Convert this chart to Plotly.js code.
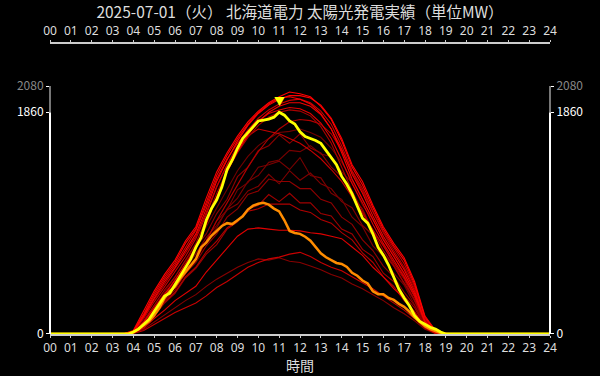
<!DOCTYPE html>
<html>
<head>
<meta charset="utf-8">
<script src="https://cdn.plot.ly/plotly-3.0.1.min.js"></script>
<style>html,body{margin:0;padding:0;background:#000;}#chart{width:600px;height:376px;}</style>
</head>
<body>
<div id="chart"></div>
<script>
// ---- data ----
const chartTitle = '2025-07-01（火） 北海道電力 太陽光発電実績（単位MW）';
const xTitle = '時間';
const hourTicks = [0,1,2,3,4,5,6,7,8,9,10,11,12,13,14,15,16,17,18,19,20,21,22,23,24];
const hourLabels = ['00','01','02','03','04','05','06','07','08','09','10','11','12','13','14','15','16','17','18','19','20','21','22','23','24'];
const yAxisMax = 2080;

// half-hour time grid for past days
const hours = [0,3.5,4,4.5,5,5.5,6,6.5,7,7.5,8,8.5,9,9.5,10,10.5,11,11.5,12,12.5,13,13.5,14,14.5,15,15.5,16,16.5,17,17.5,18,18.5,19,19.5,24];
// quarter-hour grid for today / reference day
const hours15 = [0,3.75,4,4.25,4.5,4.75,5,5.25,5.5,5.75,6,6.25,6.5,6.75,7,7.25,7.5,7.75,8,8.25,8.5,8.75,9,9.25,9.5,9.75,10,10.25,10.5,10.75,11,11.25,11.5,11.75,12,12.25,12.5,12.75,13,13.25,13.5,13.75,14,14.25,14.5,14.75,15,15.25,15.5,15.75,16,16.25,16.5,16.75,17,17.25,17.5,17.75,18,18.25,18.5,18.75,19,24];

const todayMW = [0,0,16,41,82,122,188,253,318,343,416,481,563,628,726,808,954,1052,1126,1232,1379,1460,1558,1640,1689,1738,1787,1795,1803,1819,1860,1836,1787,1762,1697,1656,1640,1623,1599,1542,1477,1420,1322,1256,1175,1077,971,930,840,726,661,579,481,375,302,237,155,106,82,57,41,16,0,0];
const orangeMW = [0,0,16,41,73,106,155,220,302,359,400,465,522,579,628,726,767,824,865,906,930,922,954,987,1044,1077,1093,1101,1085,1052,1028,954,865,848,840,816,783,726,677,644,620,596,587,563,514,489,449,424,359,334,334,302,286,253,228,188,139,98,65,41,24,8,0,0];

// clear-sky days
const day01 = [0,0,30,190,360,500,620,780,900,1140,1360,1520,1660,1780,1870,1940,1990,2030,2015,1990,1910,1800,1620,1400,1250,1060,880,740,620,420,140,25,5,0,0];
const day02 = [0,0,20,150,300,440,560,700,840,1050,1280,1460,1620,1750,1850,1920,1970,2000,2000,1980,1920,1810,1640,1420,1280,1080,900,760,640,440,150,30,5,0,0];
const day03 = [0,0,15,130,270,400,520,650,800,1000,1230,1420,1580,1710,1810,1880,1930,1960,1970,1940,1870,1760,1580,1370,1220,1030,860,720,590,400,130,20,0,0,0];
const day04 = [0,0,10,100,220,340,450,590,720,920,1150,1360,1530,1670,1780,1860,1910,1940,1940,1910,1840,1720,1550,1340,1180,990,820,680,540,360,110,15,0,0,0];
const day05 = [0,0,20,160,320,460,580,730,870,1080,1300,1470,1600,1710,1790,1850,1880,1900,1890,1850,1770,1640,1460,1260,1100,920,760,620,480,320,100,12,0,0,0];
const day06 = [0,0,12,110,240,370,480,620,760,960,1180,1370,1520,1650,1750,1820,1860,1880,1870,1830,1740,1600,1400,1200,1030,860,700,570,430,290,90,10,0,0,0];
const day07 = [0,0,18,140,290,420,540,680,820,1020,1240,1420,1560,1660,1720,1700,1680,1640,1600,1540,1470,1380,1280,1150,1010,870,730,600,470,310,90,12,0,0,0];
const day08 = [0,0,10,90,200,300,390,500,620,780,950,1100,1250,1400,1530,1640,1720,1780,1800,1790,1760,1680,1540,1360,1200,1020,850,700,560,380,120,18,0,0,0];
const day19 = [0,0,25,170,340,480,600,760,880,1100,1330,1500,1640,1760,1860,1930,1980,1990,1970,1930,1850,1720,1520,1300,1130,950,790,650,510,340,100,12,0,0,0];
// cloudy / partly cloudy days
const day09 = [0,0,10,80,210,320,460,570,730,840,1010,1130,1320,1400,1540,1580,1670,1600,1680,1560,1520,1400,1320,1150,1050,860,750,580,460,280,90,12,0,0,0];
const day10 = [0,0,10,70,190,290,430,530,680,780,950,1040,1210,1270,1400,1420,1450,1380,1480,1330,1310,1180,1130,980,900,740,650,510,410,250,80,10,0,0,0];
const day11 = [0,0,8,60,160,280,370,510,600,740,840,980,1050,1170,1200,1300,1280,1280,1220,1220,1130,1100,980,920,790,700,570,480,350,240,70,8,0,0,0];
const day12 = [0,0,8,60,150,260,340,470,550,670,750,880,940,1050,1080,1170,1110,1180,1100,1100,1010,990,880,840,710,650,510,440,320,220,60,6,0,0,0];
const day13 = [0,0,8,50,130,200,280,340,400,520,620,720,820,880,890,880,870,870,865,850,840,820,800,730,660,560,480,380,300,180,60,8,0,0,0];
const day14 = [0,0,8,60,160,270,350,480,560,690,780,890,950,1030,1050,1090,1090,1090,1040,1020,960,930,850,790,680,600,480,400,280,190,55,6,0,0,0];
const day15 = [0,0,5,30,80,130,180,220,260,320,390,440,500,560,600,630,645,670,685,650,600,560,530,480,430,380,320,260,200,130,50,5,0,0,0];
const day16 = [0,0,6,40,100,160,220,280,330,400,460,510,560,600,630,620,640,610,600,570,540,500,470,420,380,330,280,220,170,110,40,5,0,0,0];
const day17 = [0,0,8,60,170,300,390,530,630,780,890,1050,1140,1280,1330,1440,1460,1540,1530,1580,1510,1490,1360,1270,1080,960,790,660,490,330,95,12,0,0,0];
const day18 = [0,0,10,80,200,330,430,570,670,810,910,1040,1090,1200,1240,1340,1260,1370,1290,1350,1260,1220,1110,1060,910,830,670,570,420,280,80,10,0,0,0];
const day20 = [0,0,12,100,220,350,470,610,740,900,1060,1220,1370,1490,1580,1640,1690,1700,1720,1690,1650,1560,1440,1290,1120,960,800,660,510,340,100,14,0,0,0];

const cloudyDays = [day20,day17,day18,day09,day10,day11,day12,day14,day16,day15,day13];
const cloudyColors = ['#700000','#780000','#800000','#8c0000','#7a0000','#900000','#a00000','#b00000','#880000','#c80000','#e00000'];
const clearDays = [day08,day07,day06,day05,day04,day03,day19,day02,day01];
const clearColors = ['#b00000','#c80000','#a80000','#e00000','#f00000','#c80000','#f40000','#ff0000','#ff0000'];

// ---- traces ----
const traces = [];
cloudyDays.forEach((d,i)=>traces.push({x:hours, y:d, type:'scatter', mode:'lines',
  line:{color:cloudyColors[i], width:1.1}, hoverinfo:'skip', showlegend:false}));
clearDays.forEach((d,i)=>traces.push({x:hours, y:d, type:'scatter', mode:'lines',
  line:{color:clearColors[i], width:1.1}, hoverinfo:'skip', showlegend:false}));
traces.push({x:hours15, y:orangeMW, type:'scatter', mode:'lines', line:{color:'#ff8c00', width:2.5}, showlegend:false});
traces.push({x:hours15, y:todayMW, type:'scatter', mode:'lines', line:{color:'#ffff00', width:2.8}, showlegend:false});

const peak = Math.max(...todayMW);
const peakX = hours15[todayMW.indexOf(peak)];

const axisFont = {family:'"Noto Sans", sans-serif', size:12, color:'#ddd'};
const yTickVals = [0, peak, yAxisMax];
const yTickText = ['0', String(peak), '<span style="color:#888">'+yAxisMax+'</span>'];
const yDomain = [0, 0.852];

const layout = {
  width:600, height:376,
  paper_bgcolor:'#000', plot_bgcolor:'#000',
  margin:{l:50, r:50, t:43, b:42},
  font:{family:'"Noto Sans CJK JP", "Noto Sans", sans-serif', color:'#ddd', size:12},
  title:{text:chartTitle, font:{size:15.5, color:'#ddd'}, x:0.5, xanchor:'center', y:1-13/376, yanchor:'middle', yref:'container'},
  showlegend:false,
  xaxis:{range:[0,24], tickmode:'array', tickvals:hourTicks, ticktext:hourLabels, showline:true, linecolor:'#ccc', linewidth:2,
         ticks:'outside', ticklen:2, tickcolor:'#ccc', tickfont:axisFont, showgrid:false, zeroline:false, anchor:'y'},
  xaxis2:{range:[0,24], matches:'x', overlaying:'x', side:'top', anchor:'free', position:1, tickmode:'array', tickvals:hourTicks, ticktext:hourLabels,
         showline:true, linecolor:'#ccc', linewidth:2, ticks:'outside', ticklen:2, tickcolor:'#ccc', tickfont:axisFont, showgrid:false, zeroline:false},
  yaxis:{domain:yDomain, range:[0,yAxisMax], tickmode:'array', tickvals:yTickVals, ticktext:yTickText, ticks:'outside', ticklen:3, tickcolor:'#fff',
         tickfont:{size:12, color:'#fff'}, showline:false, showgrid:false, zeroline:false},
  yaxis2:{domain:yDomain, range:[0,yAxisMax], matches:'y', overlaying:'y', side:'right', anchor:'x', tickmode:'array', tickvals:yTickVals, ticktext:yTickText,
         ticks:'outside', ticklen:3, tickcolor:'#fff', tickfont:{size:12, color:'#fff'}, showline:false, showgrid:false, zeroline:false},
  shapes:[
    {type:'line', xref:'paper', yref:'y', x0:0, x1:0, y0:0, y1:peak, line:{color:'#fff', width:2}},
    {type:'line', xref:'paper', yref:'y', x0:0, x1:0, y0:peak, y1:yAxisMax, line:{color:'#777', width:2}},
    {type:'line', xref:'paper', yref:'y', x0:1, x1:1, y0:0, y1:peak, line:{color:'#fff', width:2}},
    {type:'line', xref:'paper', yref:'y', x0:1, x1:1, y0:peak, y1:yAxisMax, line:{color:'#777', width:2}}
  ],
  annotations:[
    {x:peakX, y:peak, xref:'x', yref:'y', text:'▼', showarrow:false, yanchor:'bottom', yshift:1, font:{size:11, color:'#ffff00'}},
    {x:0.5, y:0, xref:'paper', yref:'paper', text:xTitle, showarrow:false, xanchor:'center', yanchor:'bottom', yshift:-42, borderpad:0, font:{size:14, color:'#ddd'}}
  ]
};

// invisible trace binding the secondary axes
traces.push({x:[0,24], y:[0,0], xaxis:'x2', yaxis:'y2', type:'scatter', mode:'lines', line:{width:0, color:'rgba(0,0,0,0)'}, hoverinfo:'skip', showlegend:false});

Plotly.newPlot('chart', traces, layout, {staticPlot:true, displayModeBar:false});
</script>
</body>
</html>
